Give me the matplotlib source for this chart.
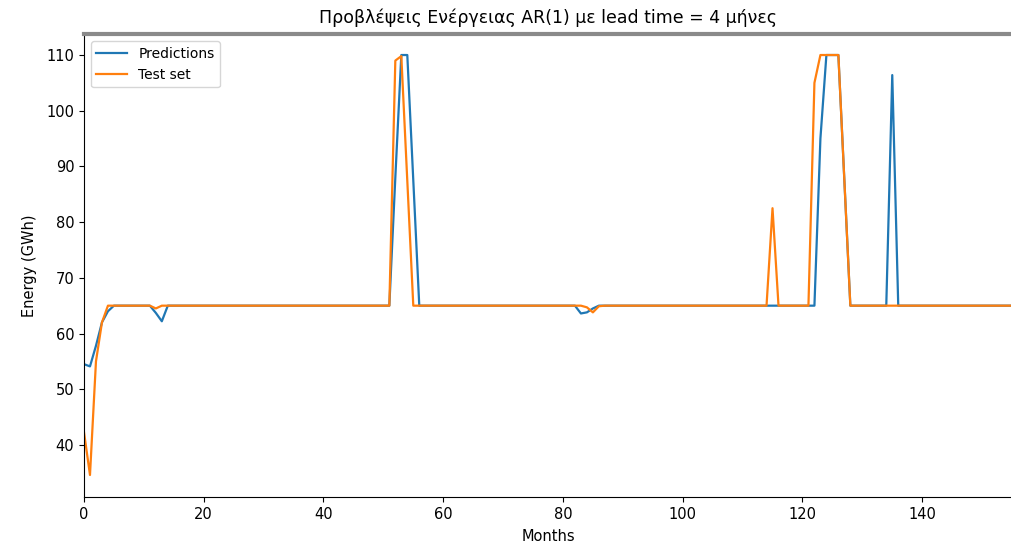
import numpy as np
import matplotlib.pyplot as plt

# monthly energy, test set vs AR(1) predictions (lead time 4 months)
n_months = 156

test_set = [65.0] * n_months
test_set[0:5] = [42.3, 34.6, 55.0, 62.0, 65.0]
test_set[12] = 64.5
test_set[51:56] = [65.0, 109.0, 109.8, 87.5, 65.0]
test_set[84:87] = [64.7, 63.8, 64.9]
test_set[115] = 82.5
test_set[121:129] = [65.0, 105.0, 110.0, 110.0, 110.0, 110.0, 87.5, 65.0]

predictions = [65.0] * n_months
predictions[0:6] = [54.5, 54.1, 57.8, 62.0, 64.0, 65.0]
predictions[11:15] = [65.0, 63.7, 62.2, 65.0]
predictions[51:57] = [65.0, 88.0, 110.0, 110.0, 87.5, 65.0]
predictions[82:87] = [65.0, 63.6, 63.8, 64.5, 65.0]
predictions[122:129] = [65.0, 95.0, 110.0, 110.0, 110.0, 87.5, 65.0]
predictions[134:137] = [65.0, 106.4, 65.0]

months = np.arange(n_months)

plt.rcParams['font.family'] = ['DejaVu Sans']
plt.rcParams['font.size'] = 10.5

fig = plt.figure(figsize=(10.12, 5.55), dpi=100)
ax = fig.add_axes([0.083, 0.104, 0.917, 0.834])

ax.plot(months, predictions, color='#1f77b4', lw=1.6, label='Predictions')
ax.plot(months, test_set, color='#ff7f0e', lw=1.6, label='Test set')

ax.set_xlim(0, 155)
ax.set_ylim(30.6, 113.7)
ax.set_xticks(np.arange(0, 141, 20))
ax.set_yticks(np.arange(40, 111, 10))
ax.spines['top'].set_color('#8a8a8a')
ax.spines['top'].set_linewidth(3)
ax.spines['right'].set_visible(False)

ax.set_title('Προβλέψεις Ενέργειας AR(1) με lead time = 4 μήνες', fontsize=12.5, pad=8)
ax.set_xlabel('Months', labelpad=5)
ax.set_ylabel('Energy (GWh)', labelpad=7)
ax.legend(loc='upper left', fontsize=10, handlelength=2.2)

fig.savefig('out.png', dpi=100)
